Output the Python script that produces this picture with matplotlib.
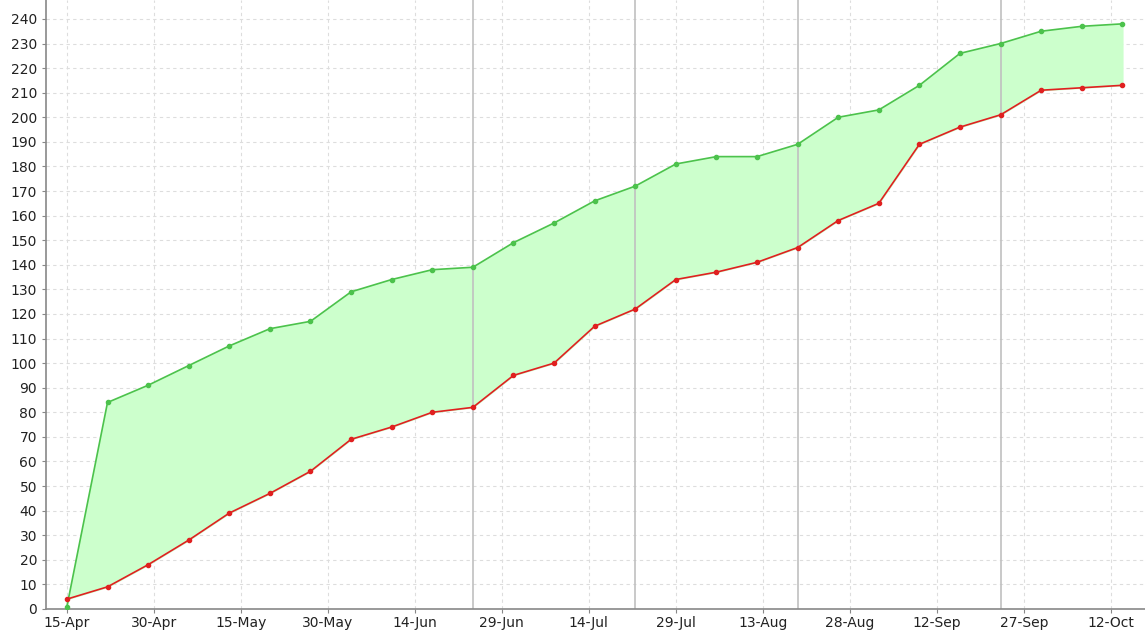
import matplotlib
matplotlib.use('Agg')
import matplotlib.pyplot as plt
import matplotlib.dates as mdates
import pandas as pd

# Weekly totals (green = scope, red = done)
dates = pd.date_range('2013-04-15', periods=27, freq='7D')
total = [1, 84, 91, 99, 107, 114, 117, 129, 134, 138, 139, 149, 157, 166,
         172, 181, 184, 184, 189, 200, 203, 213, 226, 230, 235, 237, 238]
done = [4, 9, 18, 28, 39, 47, 56, 69, 74, 80, 82, 95, 100, 115,
        122, 134, 137, 141, 147, 158, 165, 189, 196, 201, 211, 212, 213]

# Vertical marker lines
markers = pd.to_datetime(['2013-06-24', '2013-07-22', '2013-08-19', '2013-09-23'])
tick_dates = pd.date_range('2013-04-15', periods=13, freq='15D')

fig = plt.figure(figsize=(11.45, 6.36), dpi=100)
ax = fig.add_axes([0.0402, 0.0425, 0.9598, 0.9575])

ax.fill_between(dates, done, total, color='#ccffcc', zorder=1)
ax.plot(dates, total, color='#4cc24c', lw=1.2, marker='o', ms=3, zorder=3)
ax.plot(dates, done, color='#e02020', lw=1.2, marker='o', ms=3, zorder=3)

for m in markers:
    ax.axvline(m, color='#c0c0c0', lw=1.2, zorder=2)

ax.set_xlim(dates[0] - pd.Timedelta(days=3.6), dates[0] + pd.Timedelta(days=185.9))
ax.set_ylim(0, 247.7)
ax.set_yticks(range(0, 241, 10))
ax.set_xticks(tick_dates)
ax.xaxis.set_major_formatter(mdates.DateFormatter('%d-%b'))

ax.grid(True, color='#dddddd', ls=(0, (3, 3)), lw=0.8, zorder=0)
ax.set_axisbelow(True)

for s in ['top', 'right']:
    ax.spines[s].set_visible(False)
for s in ['left', 'bottom']:
    ax.spines[s].set_color('#888888')
    ax.spines[s].set_linewidth(1.2)

ax.tick_params(axis='both', labelsize=10, colors='#888888', labelcolor='#222222', length=3)
ax.tick_params(axis='x', pad=2)

fig.savefig('out.png', dpi=100)
